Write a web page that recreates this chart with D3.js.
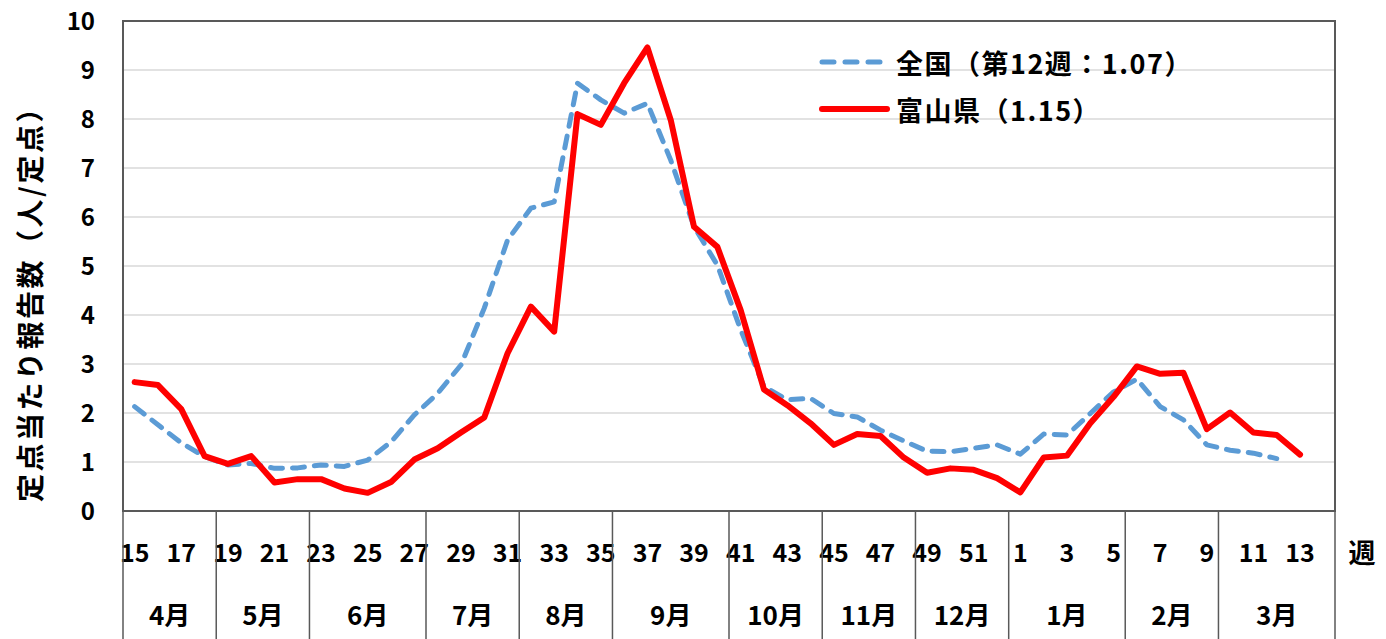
<!DOCTYPE html>
<html>
<head>
<meta charset="utf-8">
<script src="https://cdn.jsdelivr.net/npm/d3@7"></script>
<style>
body { margin: 0; background: #fff; }
svg text { font-family: "Noto Sans CJK JP", "Noto Sans", sans-serif; font-weight: bold; fill: #000; }
</style>
</head>
<body>
<svg id="chart" width="1386" height="639"></svg>
<script>
// week categories: 15..52 then 1..14
var weeks = d3.range(15, 53).concat(d3.range(1, 15));
var week_labels = weeks.filter(function(w){ return w % 2 == 1; });

var months = ['4月', '5月', '6月', '7月', '8月', '9月', '10月', '11月', '12月', '1月', '2月', '3月'];
var month_start_weeks = [15, 19, 23, 28, 32, 36, 41, 45, 49, 1, 6, 10];

// 全国 (week 15 .. week 12)
var national = [2.13, 1.76, 1.39, 1.11, 0.94, 0.97, 0.87, 0.88, 0.94, 0.91,
                1.04, 1.41, 1.96, 2.40, 2.98, 4.14, 5.53, 6.18, 6.31, 8.73,
                8.39, 8.12, 8.32, 7.16, 5.80, 5.02, 3.70, 2.54, 2.27, 2.30,
                1.99, 1.92, 1.65, 1.43, 1.22, 1.21, 1.28, 1.35, 1.16, 1.57,
                1.55, 1.99, 2.43, 2.69, 2.13, 1.86, 1.35, 1.24, 1.18, 1.07];
// 富山県 (week 15 .. week 13)
var toyama = [2.63, 2.57, 2.08, 1.12, 0.96, 1.12, 0.58, 0.65, 0.65, 0.46,
              0.37, 0.59, 1.05, 1.28, 1.60, 1.91, 3.22, 4.17, 3.66, 8.10,
              7.88, 8.73, 9.46, 7.98, 5.80, 5.39, 4.10, 2.48, 2.16, 1.79,
              1.35, 1.57, 1.53, 1.09, 0.78, 0.87, 0.84, 0.67, 0.38, 1.09,
              1.13, 1.79, 2.33, 2.95, 2.80, 2.82, 1.67, 2.01, 1.60, 1.55, 1.15];

var y_ticks = d3.range(0, 11);
var legend_labels = ['全国（第12週：1.07）', '富山県（1.15）'];
var y_title = '定点当たり報告数（人/定点）';
var x_unit = '週';

draw_chart();

function draw_chart(){
    var padding = {top: 21, left: 123, right: 51, bottom: 128};
    var svg = d3.select('#chart');
    var width = +svg.attr('width');
    var height = +svg.attr('height');
    var plot_bottom = height - padding.bottom;
    var plot_right = width - padding.right;

    var x_scale = d3.scaleBand()
        .domain(weeks)
        .range([padding.left, plot_right])
        .padding(0);
    var bw = x_scale.bandwidth();
    function cx(w){ return x_scale(w) + bw / 2; }

    var y_scale = d3.scaleLinear()
        .domain([0, 10])
        .range([plot_bottom, padding.top]);

    // gridlines
    svg.append('g')
        .selectAll('line')
        .data(y_ticks.filter(function(t){ return t > 0 && t < 10; }))
        .enter()
        .append('line')
        .attr('x1', padding.left).attr('x2', plot_right)
        .attr('y1', function(d){ return y_scale(d); })
        .attr('y2', function(d){ return y_scale(d); })
        .attr('stroke', '#d9d9d9')
        .attr('stroke-width', 1.5);

    // y axis labels
    var y_axis = svg.append('g')
        .attr('transform', 'translate(' + (padding.left - 28) + ',0)')
        .call(d3.axisLeft(y_scale).tickValues(y_ticks).tickSize(0).tickPadding(0));
    y_axis.select('.domain').remove();
    y_axis.selectAll('text')
        .attr('font-size', 24)
        .attr('font-family', null)
        .attr('dy', '0.36em');

    // y title
    svg.append('text')
        .attr('transform', 'translate(29,' + ((padding.top + plot_bottom) / 2 + 31) + ') rotate(-90)')
        .attr('text-anchor', 'middle')
        .attr('dominant-baseline', 'central')
        .attr('font-size', 28)
        .attr('letter-spacing', 2.5)
        .text(y_title);

    // category area: week labels
    svg.append('g')
        .selectAll('text')
        .data(week_labels)
        .enter()
        .append('text')
        .attr('x', function(d){ return cx(d); })
        .attr('y', plot_bottom + 40)
        .attr('text-anchor', 'middle')
        .attr('dominant-baseline', 'central')
        .attr('font-size', 25)
        .text(function(d){ return d; });

    // month separators and labels
    var bounds = month_start_weeks.map(function(w){ return x_scale(w); });
    bounds.push(plot_right);
    svg.append('g')
        .selectAll('line')
        .data(bounds)
        .enter()
        .append('line')
        .attr('x1', function(d){ return d; })
        .attr('x2', function(d){ return d; })
        .attr('y1', plot_bottom)
        .attr('y2', height)
        .attr('stroke', '#595959')
        .attr('stroke-width', 1.5);

    svg.append('g')
        .selectAll('text')
        .data(months)
        .enter()
        .append('text')
        .attr('x', function(d, i){ return (bounds[i] + bounds[i + 1]) / 2; })
        .attr('y', plot_bottom + 102)
        .attr('text-anchor', 'middle')
        .attr('dominant-baseline', 'central')
        .attr('font-size', 26)
        .text(function(d){ return d; });

    svg.append('text')
        .attr('x', plot_right + 27)
        .attr('y', plot_bottom + 40)
        .attr('text-anchor', 'middle')
        .attr('dominant-baseline', 'central')
        .attr('font-size', 27)
        .text(x_unit);

    // plot frame
    svg.append('rect')
        .attr('x', padding.left).attr('y', padding.top)
        .attr('width', plot_right - padding.left)
        .attr('height', plot_bottom - padding.top)
        .attr('fill', 'none')
        .attr('stroke', '#595959')
        .attr('stroke-width', 2);

    // lines
    var line = d3.line()
        .x(function(d, i){ return cx(weeks[i]); })
        .y(function(d){ return y_scale(d); });

    svg.append('path')
        .datum(national)
        .attr('d', line)
        .attr('fill', 'none')
        .attr('stroke', '#5b9bd5')
        .attr('stroke-width', 5)
        .attr('stroke-dasharray', '12,10')
        .attr('stroke-linecap', 'round')
        .attr('stroke-linejoin', 'round');

    svg.append('path')
        .datum(toyama)
        .attr('d', line)
        .attr('fill', 'none')
        .attr('stroke', '#ff0000')
        .attr('stroke-width', 6)
        .attr('stroke-linecap', 'round')
        .attr('stroke-linejoin', 'round');

    // legend
    var legend = svg.append('g');
    legend.append('line')
        .attr('x1', 822).attr('x2', 882).attr('y1', 62).attr('y2', 62)
        .attr('stroke', '#5b9bd5').attr('stroke-width', 5)
        .attr('stroke-dasharray', '12,11').attr('stroke-linecap', 'round');
    legend.append('line')
        .attr('x1', 822).attr('x2', 887).attr('y1', 109).attr('y2', 109)
        .attr('stroke', '#ff0000').attr('stroke-width', 6).attr('stroke-linecap', 'round');
    legend.selectAll('text')
        .data(legend_labels)
        .enter()
        .append('text')
        .attr('x', 896)
        .attr('y', function(d, i){ return 62 + i * 47; })
        .attr('dominant-baseline', 'central')
        .attr('font-size', 27)
        .attr('letter-spacing', 1.5)
        .text(function(d){ return d; });
}
</script>
</body>
</html>
